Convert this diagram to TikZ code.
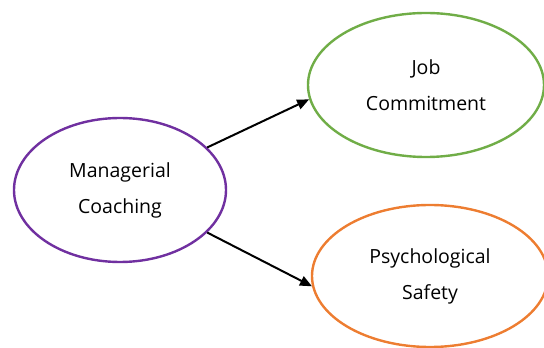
\documentclass[tikz,border=0pt]{standalone}
\usepackage{fontspec}
\setmainfont{Open Sans}
\usetikzlibrary{shapes.geometric,arrows.meta}

\definecolor{coachpurple}{HTML}{7030A0}
\definecolor{jobgreen}{HTML}{70AD47}
\definecolor{safetyorange}{HTML}{ED7D31}

\begin{document}
\begin{tikzpicture}[x=1pt,y=1pt,
	oval/.style={draw,ellipse,line width=2.4pt,inner sep=0pt,align=center,
		font=\fontsize{19.5}{36}\selectfont},
	link/.style={line width=2pt,-{Triangle[length=12pt,width=10pt]}}]
			\useasboundingbox (0,0) rectangle (544,348);
			\node (coach) [oval,coachpurple,text=black,minimum width=212pt,minimum height=144pt] at (120,158) {Managerial\\Coaching};
			\node (job) [oval,jobgreen,text=black,minimum width=236pt,minimum height=144pt] at (426,263) {Job\\Commitment};
			\node (safety) [oval,safetyorange,text=black,minimum width=236pt,minimum height=142pt] at (430,72) {Psychological\\Safety};
			
			\draw [link] (coach.26) -- (job.187);
			\draw [link] (coach.-26) -- (safety.185);
			
		\end{tikzpicture}
\end{document}
